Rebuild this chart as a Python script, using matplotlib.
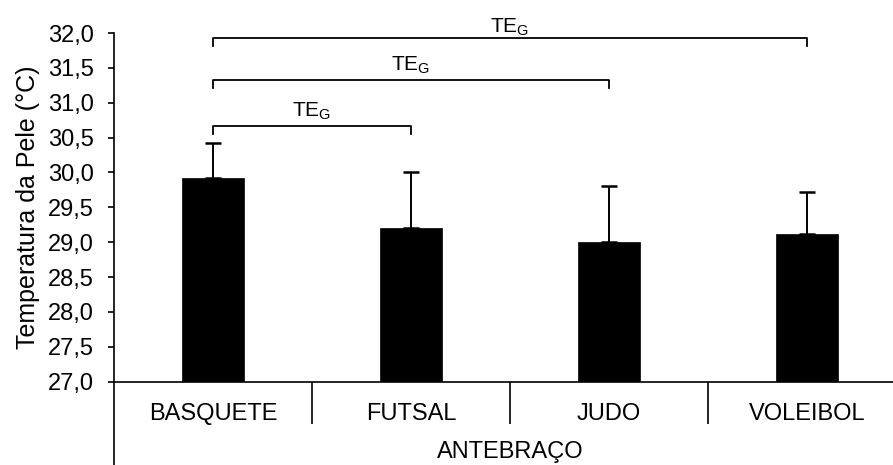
import matplotlib.pyplot as plt
from matplotlib.lines import Line2D
from matplotlib.ticker import FuncFormatter

plt.rcParams['font.family'] = ['Liberation Sans', 'DejaVu Sans']
plt.rcParams['mathtext.default'] = 'regular'

# data
sports = ['BASQUETE', 'FUTSAL', 'JUDO', 'VOLEIBOL']
means = [29.92, 29.20, 29.00, 29.12]
sd = [0.50, 0.80, 0.81, 0.60]
region = 'ANTEBRAÇO'
brackets = [(0, 1), (0, 2), (0, 3)]
bracket_heights = [30.66, 31.32, 31.93]
bracket_label = r'TE$_\mathregular{G}$'
label_gaps = [7, 7, 3.5]  # points between bracket line and label baseline

fig = plt.figure(figsize=(8.93, 4.65), dpi=100)
ax = fig.add_axes([114 / 893, 83.3 / 465, 792 / 893, 348.7 / 465])

x = list(range(len(sports)))
ax.bar(x, means, width=0.31, color='black', edgecolor='black', linewidth=0.5, zorder=2)
ax.errorbar(x, means, yerr=[[0] * len(sd), sd], fmt='none', ecolor='black',
            elinewidth=1.4, capsize=6, capthick=1.8, zorder=3)

ax.set_xlim(-0.5, 3.5)
ax.set_ylim(27.0, 32.0)
ax.set_yticks([27.0 + 0.5 * i for i in range(11)])
ax.yaxis.set_major_formatter(FuncFormatter(lambda v, _: f'{v:.1f}'.replace('.', ',')))
ax.tick_params(axis='y', direction='out', length=4.5, width=1.2, pad=10, labelsize=17)

ax.set_xticks(x)
ax.set_xticklabels(sports)
ax.tick_params(axis='x', which='major', length=0, pad=15, labelsize=17)
ax.set_xticks([0.5, 1.5, 2.5], minor=True)
ax.tick_params(axis='x', which='minor', direction='out', length=30, width=1.2)

for side in ['top', 'right']:
    ax.spines[side].set_visible(False)
for side in ['left', 'bottom']:
    ax.spines[side].set_linewidth(1.2)

# left spine runs on below the category labels
ax.add_line(Line2D([0, 0], [0, -0.24], transform=ax.transAxes, color='black',
                   linewidth=1.2, clip_on=False))

ax.set_ylabel('Temperatura da Pele (°C)', fontsize=18, labelpad=6)
ax.set_xlabel(region, fontsize=17, labelpad=9)

drop = 0.11
for (a, b), h, gap in zip(brackets, bracket_heights, label_gaps):
    ax.plot([a, a, b, b], [h - drop, h, h, h - drop], color='black', linewidth=1.3,
            clip_on=False, zorder=3)
    ax.annotate(bracket_label, xy=((a + b) / 2, h), xytext=(0, gap), textcoords='offset points',
                ha='center', va='baseline', fontsize=15, annotation_clip=False)

fig.savefig('out.png', dpi=100)
